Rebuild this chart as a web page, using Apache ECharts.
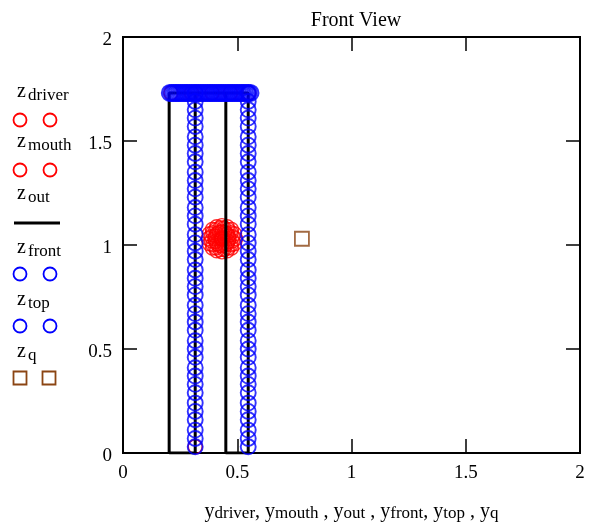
<!DOCTYPE html>
<html>
<head>
<meta charset="utf-8">
<script src="https://cdn.jsdelivr.net/npm/echarts@6/dist/echarts.min.js"></script>
<style>
  html, body { margin: 0; padding: 0; background: #fff; }
  #chart { width: 589px; height: 527px; }
</style>
</head>
<body>
<div id="chart"></div>
<script>
// tick labels
var xTicks = ['0', '0.5', '1', '1.5', '2']
var yTicks = ['0', '0.5', '1', '1.5', '2']

// driver (red cluster of circles)
var driverY = [0.493, 0.488, 0.475, 0.456, 0.433, 0.410, 0.391, 0.378, 0.373, 0.378, 0.391, 0.410, 0.433, 0.456, 0.475, 0.488,
               0.480, 0.473, 0.460, 0.442, 0.424, 0.406, 0.393, 0.386, 0.386, 0.393, 0.406, 0.424, 0.442, 0.460, 0.473, 0.480,
               0.464, 0.461, 0.455, 0.445, 0.433, 0.421, 0.411, 0.405, 0.402, 0.405, 0.411, 0.421, 0.433, 0.445, 0.455, 0.461,
               0.433]
var driverZ = [1.030, 1.054, 1.075, 1.088, 1.093, 1.088, 1.075, 1.054, 1.030, 1.006, 0.985, 0.972, 0.967, 0.972, 0.985, 1.006,
               1.040, 1.059, 1.074, 1.082, 1.082, 1.074, 1.059, 1.040, 1.020, 1.001, 0.986, 0.978, 0.978, 0.986, 1.001, 1.020,
               1.030, 1.043, 1.054, 1.061, 1.064, 1.061, 1.054, 1.043, 1.030, 1.017, 1.006, 0.999, 0.996, 0.999, 1.006, 1.017,
               1.030]

// mouth (mostly hidden under the blue)
var mouthY = [0.316, 0.21, 0.30, 0.39, 0.47, 0.55]
var mouthZ = [0.03, 1.731, 1.731, 1.731, 1.731, 1.731]

// outline
var outY = [0.202, 0.202, 0.548, 0.548, 0.450, 0.450, 0.316, 0.316, 0.202]
var outZ = [0, 1.731, 1.731, 0, 0, 1.731, 1.731, 0, 0]

// front columns
var frontY = [0.316, 0.548]
var frontZ = [0.03, 0.07, 0.11, 0.16, 0.20, 0.24, 0.29, 0.33, 0.37, 0.41, 0.46, 0.50, 0.54, 0.59,
              0.63, 0.67, 0.71, 0.76, 0.80, 0.84, 0.88, 0.93, 0.97, 1.01, 1.05, 1.10, 1.14,
              1.18, 1.23, 1.27, 1.31, 1.35, 1.40, 1.44, 1.48, 1.52, 1.57, 1.61, 1.65, 1.69, 1.73]

// top row
var topY = [0.205, 0.213, 0.221, 0.229, 0.236, 0.244, 0.252, 0.260, 0.268, 0.276, 0.283, 0.291,
            0.299, 0.307, 0.315, 0.323, 0.330, 0.338, 0.346, 0.354, 0.362, 0.370, 0.378, 0.385,
            0.393, 0.401, 0.409, 0.417, 0.425, 0.432, 0.440, 0.448, 0.456, 0.464, 0.472, 0.479,
            0.487, 0.495, 0.503, 0.511, 0.519, 0.526, 0.534, 0.542, 0.550, 0.558]
var topZ = 1.731

// q
var qY = [0.783]
var qZ = [1.03]

var RED = '#ff0000'
var BLUE = '#0000ff'
var BROWN = '#8b4513'
var CLEAR = 'rgba(0,0,0,0)'
var FONT = 'Liberation Serif'

function pairs (xs, zs) {
  var out = []
  for (var i = 0; i < xs.length; i++) out.push([xs[i], zs[i]])
  return out
}

var frontData = []
frontY.forEach(function (y) {
  frontZ.forEach(function (z) { frontData.push([y, z]) })
})
var topData = topY.map(function (y) { return [y, topZ] })

// legend built from graphic pieces (label above, symbols below)
var legendItems = [
  { sub: 'driver', base: 99, sym: 'circle', color: RED, symY: 120 },
  { sub: 'mouth', base: 149, sym: 'circle', color: RED, symY: 170 },
  { sub: 'out', base: 201, sym: 'line', color: '#000', symY: 223 },
  { sub: 'front', base: 255, sym: 'circle', color: BLUE, symY: 274 },
  { sub: 'top', base: 307, sym: 'circle', color: BLUE, symY: 326 },
  { sub: 'q', base: 359, sym: 'rect', color: BROWN, symY: 378 }
]
var graphics = []
legendItems.forEach(function (it) {
  graphics.push({
    type: 'text', left: 17, top: it.base - 17,
    style: { text: 'z', font: '20px ' + FONT, fill: '#000' }
  })
  graphics.push({
    type: 'text', left: 28, top: it.base - 12,
    style: { text: it.sub, font: '17px ' + FONT, fill: '#000' }
  })
  if (it.sym === 'circle') {
    [20, 50].forEach(function (cx) {
      graphics.push({
        type: 'circle', shape: { cx: cx, cy: it.symY, r: 6.5 },
        style: { fill: 'none', stroke: it.color, lineWidth: 1.8 }
      })
    })
  } else if (it.sym === 'rect') {
    [20, 49].forEach(function (cx) {
      graphics.push({
        type: 'rect', shape: { x: cx - 6.5, y: it.symY - 6.5, width: 13, height: 13 },
        style: { fill: 'none', stroke: it.color, lineWidth: 1.8 }
      })
    })
  } else {
    graphics.push({
      type: 'line', shape: { x1: 14, y1: it.symY, x2: 60, y2: it.symY },
      style: { stroke: '#000', lineWidth: 3 }
    })
  }
})

var chart = echarts.init(document.getElementById('chart'))

var tickStyle = { show: true, inside: true, length: 14, lineStyle: { color: '#000', width: 1.5 } }
var lineStyle = { show: true, onZero: false, lineStyle: { color: '#000', width: 2 } }

var option = {
  animation: false,
  backgroundColor: '#fff',
  title: {
    text: 'Front View',
    left: 351, top: 6,
    textAlign: 'center',
    textStyle: { fontFamily: FONT, fontSize: 20, fontWeight: 'normal', color: '#000' }
  },
  grid: {
    left: 123, right: 9, top: 37, bottom: 74,
    outerBoundsMode: 'none', containLabel: false,
    show: true, borderColor: '#000', borderWidth: 2, backgroundColor: 'transparent'
  },
  graphic: graphics,
  xAxis: [
    {
      type: 'value', min: 0, max: 2, interval: 0.5,
      axisLine: lineStyle,
      axisTick: tickStyle,
      splitLine: { show: false },
      axisLabel: {
        margin: 11, color: '#000', fontFamily: FONT, fontSize: 19,
        formatter: function (v) { return xTicks[Math.round(v / 0.5)] }
      },
      name: '{m|y}{s|driver}{m|, y}{s|mouth}{m| , y}{s|out}{m| , y}{s|front}{m|, y}{s|top}{m| , y}{s|q}',
      nameLocation: 'middle',
      nameGap: 47,
      nameTextStyle: {
        rich: {
          m: { fontFamily: FONT, fontSize: 20, color: '#000', lineHeight: 22, verticalAlign: 'bottom' },
          s: { fontFamily: FONT, fontSize: 17, color: '#000', lineHeight: 22, verticalAlign: 'bottom' }
        }
      }
    },
    {
      type: 'value', min: 0, max: 2, interval: 0.5, position: 'top',
      axisLine: lineStyle,
      axisTick: tickStyle, axisLabel: { show: false }, splitLine: { show: false }
    }
  ],
  yAxis: [
    {
      type: 'value', min: 0, max: 2, interval: 0.5,
      axisLine: lineStyle,
      axisTick: tickStyle,
      splitLine: { show: false },
      axisLabel: {
        margin: 11, color: '#000', fontFamily: FONT, fontSize: 19,
        verticalAlign: 'top', lineHeight: 6,
        formatter: function (v) { return yTicks[Math.round(v / 0.5)] }
      }
    },
    {
      type: 'value', min: 0, max: 2, interval: 0.5, position: 'right',
      axisLine: lineStyle,
      axisTick: tickStyle, axisLabel: { show: false }, splitLine: { show: false }
    }
  ],
  series: [
    {
      name: 'driver', type: 'scatter', data: pairs(driverY, driverZ), z: 1,
      symbol: 'circle', symbolSize: 14,
      itemStyle: { color: CLEAR, borderColor: RED, borderWidth: 1.4 }
    },
    {
      name: 'mouth', type: 'scatter', data: pairs(mouthY, mouthZ), z: 1,
      symbol: 'circle', symbolSize: 14,
      itemStyle: { color: CLEAR, borderColor: RED, borderWidth: 1.6 }
    },
    {
      name: 'out', type: 'line', data: pairs(outY, outZ), z: 2,
      showSymbol: false, symbol: 'none',
      lineStyle: { color: '#000', width: 3 }
    },
    {
      name: 'front', type: 'scatter', data: frontData, z: 3,
      symbol: 'circle', symbolSize: 15,
      itemStyle: { color: CLEAR, borderColor: BLUE, borderWidth: 1.9 }
    },
    {
      name: 'top', type: 'scatter', data: topData, z: 3,
      symbol: 'circle', symbolSize: 16,
      itemStyle: { color: CLEAR, borderColor: BLUE, borderWidth: 2 }
    },
    {
      name: 'q', type: 'scatter', data: pairs(qY, qZ), z: 3,
      symbol: 'rect', symbolSize: 14,
      itemStyle: { color: CLEAR, borderColor: BROWN, borderWidth: 1.8 }
    }
  ]
}
chart.setOption(option)
</script>
</body>
</html>
